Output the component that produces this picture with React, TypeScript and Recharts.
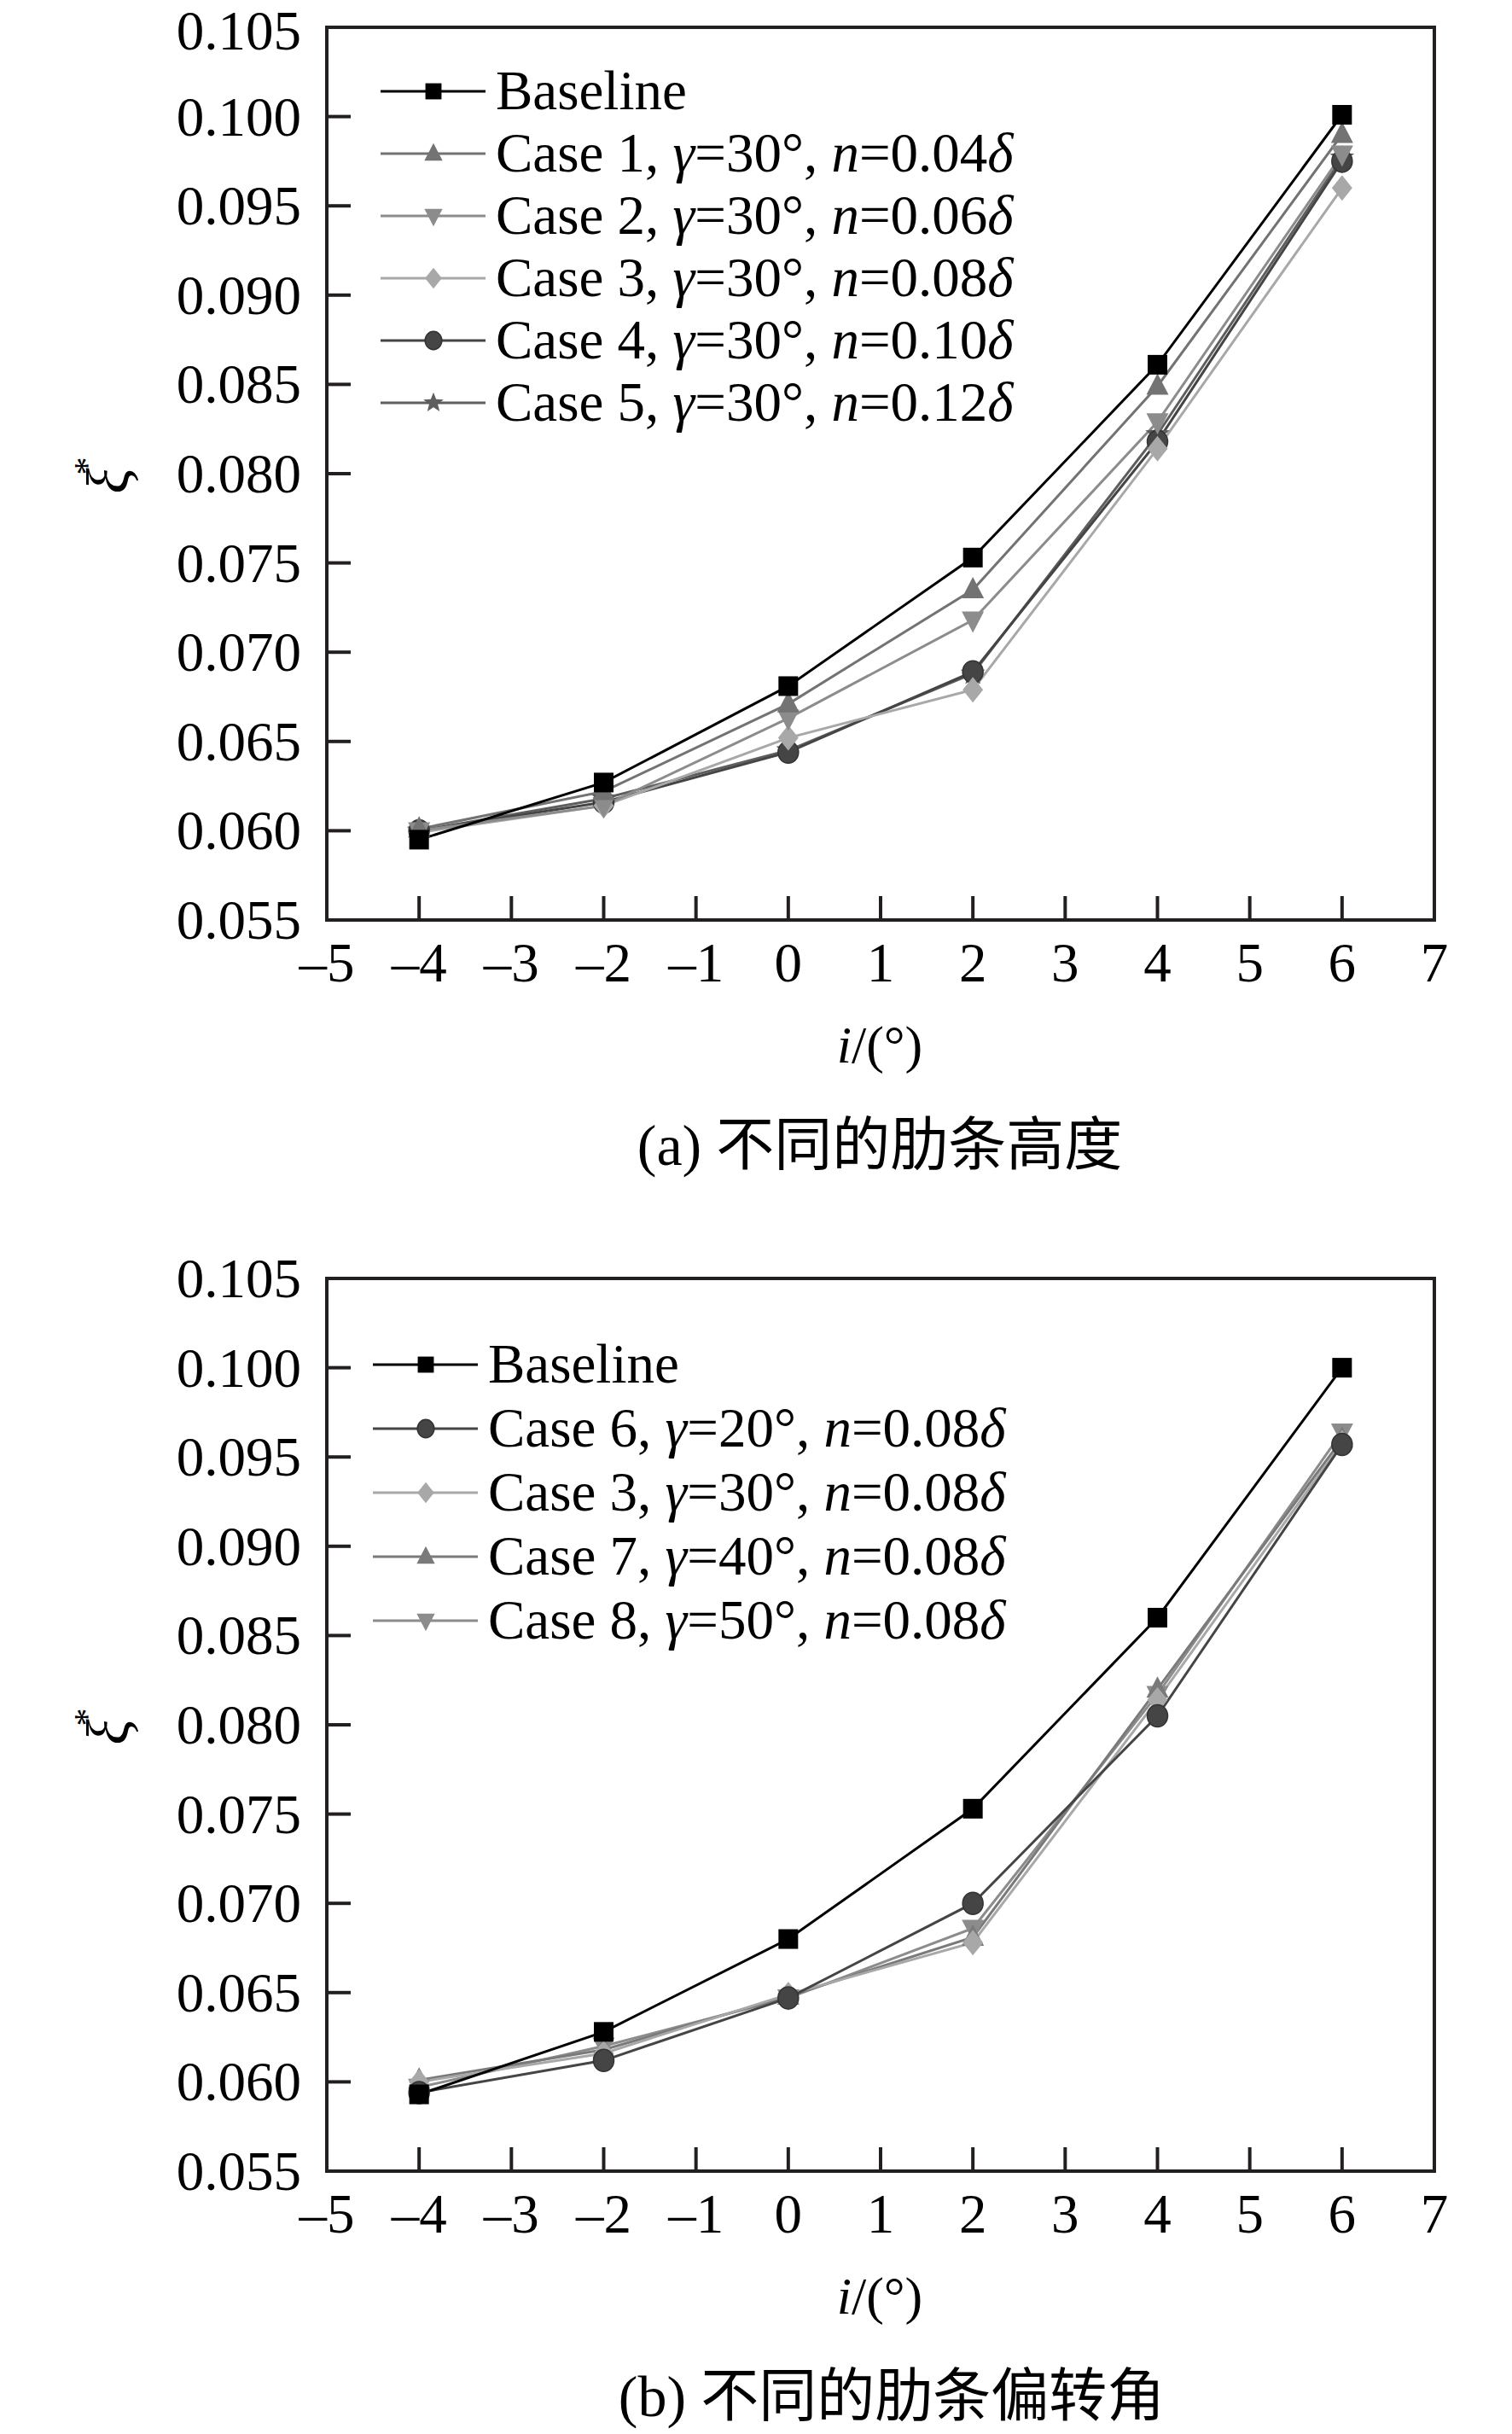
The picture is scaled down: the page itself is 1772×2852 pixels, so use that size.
import React from 'react';
import { LineChart, Line, XAxis, YAxis, ReferenceArea, Legend } from 'recharts';

// incidence angle i (deg)
const incidence = [-4, -2, 0, 2, 4, 6];
const xTicks = [-5, -4, -3, -2, -1, 0, 1, 2, 3, 4, 5, 6, 7];
const yTicks = [0.055, 0.06, 0.065, 0.07, 0.075, 0.08, 0.085, 0.09, 0.095, 0.1, 0.105];

// (a) different rib heights
const baselineA = [0.0595, 0.0627, 0.0681, 0.0753, 0.0861, 0.1001];
const case1A = [0.0601, 0.0622, 0.0671, 0.0735, 0.0849, 0.099];
const case2A = [0.06, 0.0614, 0.0663, 0.0718, 0.0829, 0.0979];
const case3A = [0.0599, 0.0614, 0.0652, 0.0679, 0.0814, 0.096];
const case4A = [0.06, 0.0616, 0.0644, 0.0689, 0.0818, 0.0975];
const case5A = [0.06, 0.0618, 0.0645, 0.0688, 0.0822, 0.0977];

// (b) different rib deflection angles
const baselineB = [0.0593, 0.0628, 0.068, 0.0753, 0.086, 0.1];
const case6B = [0.0594, 0.0612, 0.0647, 0.07, 0.0805, 0.0957];
const case3B = [0.06, 0.0616, 0.0649, 0.0678, 0.0814, 0.0958];
const case7B = [0.0601, 0.0618, 0.0648, 0.0681, 0.082, 0.096];
const case8B = [0.0597, 0.062, 0.0647, 0.0686, 0.0817, 0.0964];

// legend text
const namesA = ['Baseline', 'Case 1', 'Case 2', 'Case 3', 'Case 4', 'Case 5'];
const gammaA = [null, 30, 30, 30, 30, 30];
const nA = [null, '0.04', '0.06', '0.08', '0.10', '0.12'];
const namesB = ['Baseline', 'Case 6', 'Case 3', 'Case 7', 'Case 8'];
const gammaB = [null, 20, 30, 40, 50];
const nB = [null, '0.08', '0.08', '0.08', '0.08'];

const SERIF = '"Liberation Serif", "Times New Roman", serif';
const CAPTION_FONT = '"Liberation Serif", "Noto Sans CJK SC", serif';
const AXIS = '#231f20';
const PAD = 20; // extra room above the plot so the top tick label is not clipped

type Shape = 'square' | 'triangle' | 'triangleDown' | 'diamond' | 'circle' | 'star';

const stylesA: { shape: Shape; color: string }[] = [
  { shape: 'square', color: '#000000' },
  { shape: 'triangle', color: '#737373' },
  { shape: 'triangleDown', color: '#8c8c8c' },
  { shape: 'diamond', color: '#a8a8a8' },
  { shape: 'circle', color: '#454545' },
  { shape: 'star', color: '#5e5e5e' },
];
const stylesB: { shape: Shape; color: string }[] = [
  { shape: 'square', color: '#000000' },
  { shape: 'circle', color: '#454545' },
  { shape: 'diamond', color: '#a8a8a8' },
  { shape: 'triangle', color: '#7a7a7a' },
  { shape: 'triangleDown', color: '#8c8c8c' },
];

function buildRows(series: number[][]) {
  return incidence.map((i, idx) => {
    const row: Record<string, number> = { i };
    series.forEach((s, k) => {
      row[`s${k}`] = s[idx];
    });
    return row;
  });
}

function Marker({ cx, cy, shape, color, scale = 1 }: { cx: number; cy: number; shape: Shape; color: string; scale?: number }) {
  const s = scale;
  switch (shape) {
    case 'square':
      return <rect x={cx - 11.5 * s} y={cy - 11.5 * s} width={23 * s} height={23 * s} fill={color} />;
    case 'triangle':
      return <polygon points={`${cx},${cy - 15 * s} ${cx - 13 * s},${cy + 10 * s} ${cx + 13 * s},${cy + 10 * s}`} fill={color} />;
    case 'triangleDown':
      return <polygon points={`${cx},${cy + 15 * s} ${cx - 13 * s},${cy - 10 * s} ${cx + 13 * s},${cy - 10 * s}`} fill={color} />;
    case 'diamond':
      return <polygon points={`${cx},${cy - 15 * s} ${cx + 12 * s},${cy} ${cx},${cy + 15 * s} ${cx - 12 * s},${cy}`} fill={color} />;
    case 'circle':
      return <ellipse cx={cx} cy={cy} rx={12 * s} ry={13 * s} fill={color} stroke="#333" strokeWidth={1.5} />;
    case 'star': {
      const pts: string[] = [];
      for (let k = 0; k < 10; k++) {
        const r = (k % 2 === 0 ? 15 : 6.5) * s;
        const a = -Math.PI / 2 + (k * Math.PI) / 5;
        pts.push(`${cx + r * Math.cos(a)},${cy + r * Math.sin(a)}`);
      }
      return <polygon points={pts.join(' ')} fill={color} />;
    }
  }
  return null;
}

const YTick = (props: any) => {
  const { x, y, payload, atPageTop } = props;
  const v = Number(payload.value);
  // the very top label of the first panel sits at the page edge; nudge it so its box stays on the page
  const dy = atPageTop && v > 0.104 ? 26 : 22;
  return (
    <g>
      <line x1={x} y1={y} x2={x + 28} y2={y} stroke={AXIS} strokeWidth={4} />
      <text x={x - 30} y={y + dy} textAnchor="end" fontSize={65} fontFamily={SERIF} fill="#000">
        {v.toFixed(3)}
      </text>
    </g>
  );
};

const XTick = (props: any) => {
  const { x, y, payload } = props;
  const v = Number(payload.value);
  return (
    <g>
      <line x1={x} y1={y} x2={x} y2={y - 28} stroke={AXIS} strokeWidth={4} />
      <text x={x} y={y + 72} textAnchor="middle" fontSize={65} fontFamily={SERIF} fill="#000">
        {v < 0 ? `\u2013${Math.abs(v)}` : `${v}`}
      </text>
    </g>
  );
};

function LegendRows({ names, gammas, ns, styles, rowHeight }: {
  names: string[]; gammas: (number | null)[]; ns: (string | null)[];
  styles: { shape: Shape; color: string }[]; rowHeight: number;
}) {
  return (
    <div style={{ fontFamily: SERIF, fontSize: 65, color: '#000', whiteSpace: 'nowrap' }}>
      {names.map((name, k) => (
        <div key={name + k} style={{ display: 'flex', alignItems: 'center', height: rowHeight, lineHeight: `${rowHeight}px` }}>
          <svg width={135} height={40} style={{ flex: 'none' }}>
            <line x1={0} y1={20} x2={123} y2={20} stroke={styles[k].color} strokeWidth={3} />
            <Marker cx={62} cy={20} shape={styles[k].shape} color={styles[k].color} scale={0.82} />
          </svg>
          <span>
            {name}
            {gammas[k] != null && (
              <>
                , <i>γ</i>={gammas[k]}°, <i>n</i>={ns[k]}<i>δ</i>
              </>
            )}
          </span>
        </div>
      ))}
    </div>
  );
}

function Panel({ series, styles, names, gammas, ns, legendLeft, legendTop, rowHeight, atPageTop }: {
  series: number[][]; styles: { shape: Shape; color: string }[];
  names: string[]; gammas: (number | null)[]; ns: (string | null)[];
  legendLeft: number; legendTop: number; rowHeight: number; atPageTop: boolean;
}) {
  const data = buildRows(series);
  const order = series.map((_, k) => k).reverse();
  return (
    <LineChart width={1772} height={1466 + PAD} data={data} margin={{ top: 32 + PAD, right: 91, bottom: 0, left: 0 }}>
      <XAxis
        dataKey="i"
        type="number"
        domain={[-5, 7]}
        ticks={xTicks}
        interval={0}
        axisLine={false}
        tickLine={false}
        tickSize={0}
        tickMargin={0}
        height={388}
        tick={<XTick />}
      />
      <YAxis
        type="number"
        domain={[0.055, 0.105]}
        ticks={yTicks}
        interval={0}
        axisLine={false}
        tickLine={false}
        tickSize={0}
        tickMargin={0}
        width={383}
        tick={<YTick atPageTop={atPageTop} />}
      />
      <ReferenceArea x1={-5} x2={7} y1={0.055} y2={0.105} fill="none" stroke={AXIS} strokeWidth={4} />
      {order.map((k) => (
        <Line
          key={`s${k}`}
          dataKey={`s${k}`}
          type="linear"
          stroke={styles[k].color}
          strokeWidth={3}
          isAnimationActive={false}
          activeDot={false}
          dot={(p: any) => (
            <Marker key={`m${k}-${p.index}`} cx={p.cx} cy={p.cy} shape={styles[k].shape} color={styles[k].color} />
          )}
        />
      ))}
      <Legend
        layout="vertical"
        align="center"
        verticalAlign="middle"
        wrapperStyle={{ left: legendLeft, top: legendTop + PAD, width: 1000, height: 'auto' }}
        content={() => <LegendRows names={names} gammas={gammas} ns={ns} styles={styles} rowHeight={rowHeight} />}
      />
    </LineChart>
  );
}

export default function App() {
  const panels = [
    { top: 0, caption: '(a) 不同的肋条高度', capX: 1031 },
    { top: 1466, caption: '(b) 不同的肋条偏转角', capX: 1045 },
  ];
  return (
    <div style={{ position: 'absolute', left: 0, top: 0, width: 1772, height: 2852, background: '#fff', overflow: 'hidden' }}>
      <div style={{ position: 'absolute', left: 0, top: -PAD }}>
        <Panel
          series={[baselineA, case1A, case2A, case3A, case4A, case5A]}
          styles={stylesA}
          names={namesA}
          gammas={gammaA}
          ns={nA}
          legendLeft={446}
          legendTop={70}
          rowHeight={73}
          atPageTop
        />
      </div>
      <div style={{ position: 'absolute', left: 0, top: 1466 - PAD }}>
        <Panel
          series={[baselineB, case6B, case3B, case7B, case8B]}
          styles={stylesB}
          names={namesB}
          gammas={gammaB}
          ns={nB}
          legendLeft={437}
          legendTop={95}
          rowHeight={75}
          atPageTop={false}
        />
      </div>
      <svg width={1772} height={2852} style={{ position: 'absolute', left: 0, top: 0, pointerEvents: 'none' }}>
        {panels.map((p) => (
          <g key={p.caption}>
            <text
              transform={`translate(150, ${p.top + 557}) rotate(-90)`}
              textAnchor="middle"
              fontSize={70}
              fontFamily={SERIF}
              fill="#000"
            >
              <tspan fontStyle="italic">ξ</tspan>
              <tspan fontSize={42} dx={-8} dy={-34}>*</tspan>
            </text>
            <text x={1031} y={p.top + 1245} textAnchor="middle" fontSize={62} fontFamily={SERIF} fill="#000">
              <tspan fontStyle="italic">i</tspan>/(°)
            </text>
            <text x={p.capX} y={p.top + 1365} textAnchor="middle" fontSize={68} fontFamily={CAPTION_FONT} fill="#000">
              {p.caption}
            </text>
          </g>
        ))}
      </svg>
    </div>
  );
}
